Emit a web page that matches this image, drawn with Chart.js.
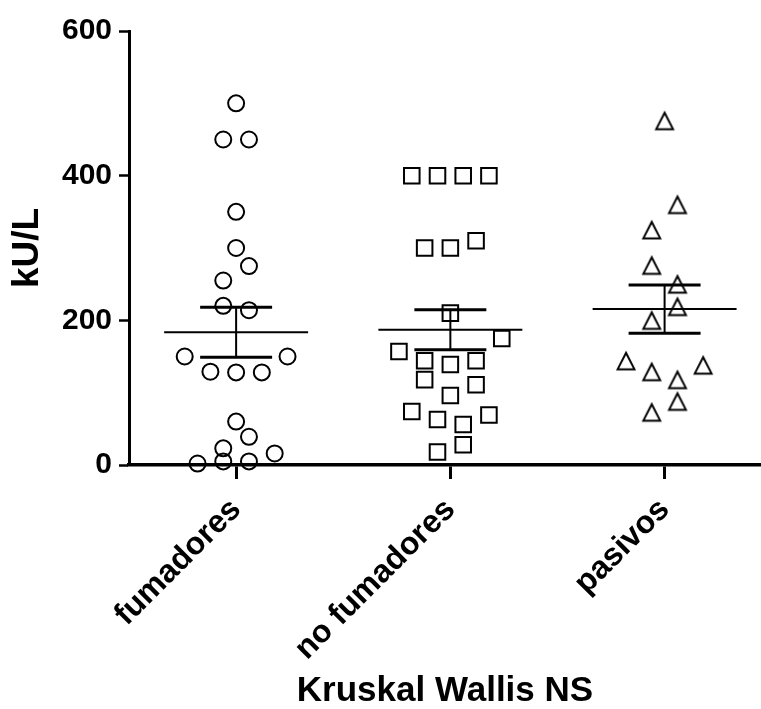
<!DOCTYPE html>
<html>
<head>
<meta charset="utf-8">
<script src="https://cdn.jsdelivr.net/npm/chart.js@4.4.1/dist/chart.umd.min.js"></script>
<style>
html, body { margin: 0; padding: 0; background: #fff; }
canvas { display: block; }
</style>
</head>
<body>
<canvas id="c" width="761" height="709"></canvas>
<script>
// ---- data ----
const categories = ['fumadores', 'no fumadores', 'pasivos'];
const yTicks = [0, 200, 400, 600];

const fumadoresValues = [500, 450, 450, 350, 300, 275, 255, 220, 214, 150, 150, 129, 128, 128, 60, 39, 23, 16, 2, 5, 5];
const fumadoresSlots  = [0, -1, 1, 0, 0, 1, -1, -1, 1, -4, 4, -2, 0, 2, 0, 1, -1, 3, -3, -1, 1];

const noFumadoresValues = [400, 400, 400, 400, 300, 300, 310, 210, 175, 157, 144, 139, 144, 118, 111, 96, 74, 63, 69, 56, 28, 18];
const noFumadoresSlots  = [-3, -1, 1, 3, -2, 0, 2, 0, 4, -4, -2, 0, 2, -2, 2, 0, -3, -1, 3, 1, 1, -1];

const pasivosValues = [476, 360, 325, 276, 250, 219, 200, 144, 129, 138, 118, 88, 73];
const pasivosSlots  = [0, 1, -1, -1, 1, 1, -1, -3, -1, 3, 1, 1, -1];

const meanValues = [183.5, 187, 215.5];
const semValues  = [34.6, 27.7, 33.4];

// ---- presentation ----
const FONT = "'Liberation Sans', Arial, Helvetica, sans-serif";
const JITTER = 0.06;      // horizontal spread per slot, in category units
const MEAN_HALF = 0.336;  // half width of mean line
const CAP_HALF = 0.168;   // half width of SEM caps

function points(values, slots, gi) {
  return values.map((v, i) => ({ x: gi + slots[i] * JITTER, y: v }));
}

function triangleMarker() {
  const c = document.createElement('canvas');
  c.width = 24; c.height = 24;
  const g = c.getContext('2d');
  g.strokeStyle = '#000';
  g.lineWidth = 2;
  g.lineJoin = 'miter';
  g.beginPath();
  g.moveTo(12, 4);
  g.lineTo(3.6, 20.4);
  g.lineTo(20.4, 20.4);
  g.closePath();
  g.stroke();
  return c;
}

const markerBase = {
  type: 'scatter',
  borderColor: '#000',
  backgroundColor: 'rgba(0,0,0,0)',
  borderWidth: 2,
  showLine: false,
  clip: false
};

const datasets = [
  Object.assign({}, markerBase, { data: points(fumadoresValues, fumadoresSlots, 0), pointStyle: 'circle', pointRadius: 8 }),
  Object.assign({}, markerBase, { data: points(noFumadoresValues, noFumadoresSlots, 1), pointStyle: 'rect', pointRadius: 11 }),
  Object.assign({}, markerBase, { data: points(pasivosValues, pasivosSlots, 2), pointStyle: triangleMarker(), pointRadius: 10 })
];

function lineSet(data, width) {
  return {
    type: 'line', data, borderColor: '#000', borderWidth: width,
    pointRadius: 0, showLine: true, fill: false, tension: 0, clip: false,
    borderCapStyle: 'butt'
  };
}

meanValues.forEach((m, gi) => {
  const s = semValues[gi];
  datasets.push(lineSet([{ x: gi - MEAN_HALF, y: m }, { x: gi + MEAN_HALF, y: m }], 2));
  datasets.push(lineSet([{ x: gi - CAP_HALF, y: m + s }, { x: gi + CAP_HALF, y: m + s }], 3));
  datasets.push(lineSet([{ x: gi - CAP_HALF, y: m - s }, { x: gi + CAP_HALF, y: m - s }], 3));
  datasets.push(lineSet([{ x: gi, y: m - s }, { x: gi, y: m + s }], 2));
});

new Chart(document.getElementById('c'), {
  type: 'scatter',
  data: { datasets },
  options: {
    responsive: false,
    animation: false,
    events: [],
    layout: { autoPadding: false, padding: { top: 31, right: 0, bottom: 0, left: 0 } },
    plugins: { legend: { display: false }, tooltip: { enabled: false } },
    scales: {
      x: {
        type: 'linear',
        min: -0.5,
        max: 2.45,
        afterBuildTicks: s => { s.ticks = categories.map((_, i) => ({ value: i })); },
        afterFit: s => { s.height = 244; s.paddingLeft = 0; s.paddingRight = 0; },
        ticks: {
          callback: v => categories[v] ?? '',
          maxRotation: 45, minRotation: 45, autoSkip: false,
          font: { family: FONT, size: 32, weight: 'bold' },
          color: '#000',
          padding: 12
        },
        grid: { drawOnChartArea: false, drawTicks: true, tickLength: 14, tickWidth: 3, tickColor: '#000' },
        border: { display: true, color: '#000', width: 3.5 },
        title: {
          display: true, text: 'Kruskal Wallis NS', color: '#000',
          font: { family: FONT, size: 35, weight: 'bold', lineHeight: 1 },
          padding: { top: 0, bottom: 0 }
        }
      },
      y: {
        min: 0,
        max: 600,
        afterBuildTicks: s => { s.ticks = yTicks.map(v => ({ value: v })); },
        afterFit: s => { s.width = 129; s.paddingTop = 0; s.paddingBottom = 0; },
        ticks: {
          font: { family: FONT, size: 30, weight: 'bold' },
          color: '#000',
          padding: 7
        },
        grid: { drawOnChartArea: false, drawTicks: true, tickLength: 10, tickWidth: 2.5, tickColor: '#000' },
        border: { display: true, color: '#000', width: 3 },
        title: {
          display: true, text: 'kU/L', color: '#000',
          font: { family: FONT, size: 37, weight: 'bold', lineHeight: 1 },
          padding: { top: 9, bottom: 0 }
        }
      }
    }
  }
});
</script>
</body>
</html>
